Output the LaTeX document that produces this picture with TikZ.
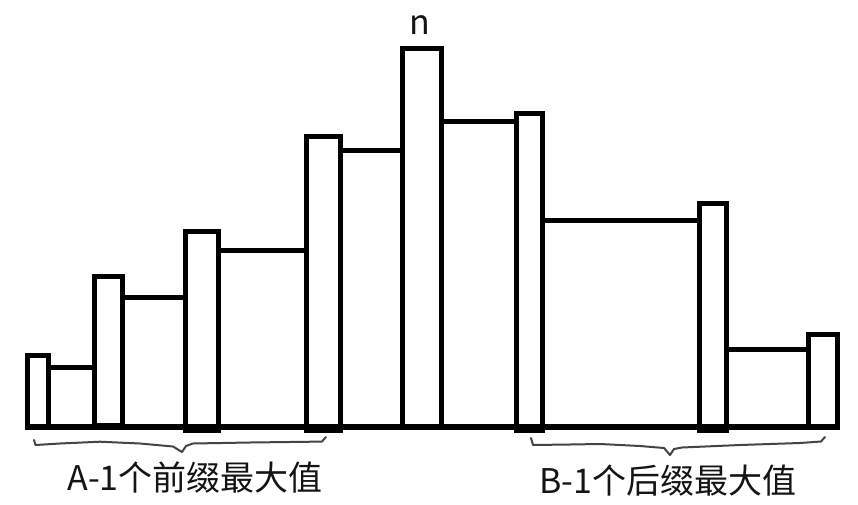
\documentclass[tikz,border=0pt]{standalone}
\usepackage{fontspec}
\newfontfamily\cjk{Noto Sans CJK SC}
\definecolor{bracegray}{HTML}{444444}
\begin{document}
\begin{tikzpicture}[x=1pt,y=-1pt,
  barline/.style={line width=5pt, draw=black, line join=miter},
  level/.style={line width=5pt, draw=black},
  bracepath/.style={line width=2pt, draw=bracegray, line cap=round, line join=round},
  label/.style={font=\cjk\fontsize{34}{40}\selectfont, text=black!92, inner sep=0pt}]
\useasboundingbox (0,0) rectangle (858,505);
\fill[white] (0,0) rectangle (858,505);
% baseline
\draw[level, line width=5.5pt] (27,427) -- (838,427);
% bars
\draw[barline] (27.5,427) rectangle (48.5,355);
\draw[barline] (94.5,425.5) rectangle (122.5,276.5);
\draw[barline] (185.2,430) rectangle (218.2,231.5);
\draw[barline] (306.5,430) rectangle (340,136.5);
\draw[barline] (402.5,427) rectangle (441.5,48.5);
\draw[barline] (516.5,430) rectangle (542.5,114);
\draw[barline] (699,430) rectangle (726.5,203);
\draw[barline] (808.5,427) rectangle (837.5,334);
% levels between bars
\draw[level] (46,367.5) -- (94.5,367.5);
\draw[level] (122.5,297) -- (185.2,297);
\draw[level] (218.2,250.5) -- (308,250.5);
\draw[level] (338,151) -- (402.5,151);
\draw[level] (441.5,121.7) -- (516.5,121.7);
\draw[level] (542.5,220.7) -- (699,220.7);
\draw[level] (726.5,349) -- (808.5,349);
% braces
\draw[bracepath] (34,440) -- (35.5,445) -- (60,443.5) -- (100,441.7) -- (140,443.5) -- (173,446.5) -- (182,452) -- (186,446) -- (193,443.5) -- (250,442.5) -- (313,441.7) -- (322,441.5) -- (326,437);
\draw[bracepath] (531,438) -- (533,445) -- (570,444.5) -- (600,444) -- (640,446) -- (664,448) -- (670,455) -- (674,449) -- (682,447.5) -- (740,445) -- (800,443) -- (821,441.5) -- (825,437);
% labels
\node[label, anchor=base] (top) at (420,35) {n};
\node[label, anchor=base] (left) at (195,490) {A-1个前缀最大值};
\node[label, anchor=base] (right) at (668,493) {B-1个后缀最大值};
\end{tikzpicture}
\end{document}
